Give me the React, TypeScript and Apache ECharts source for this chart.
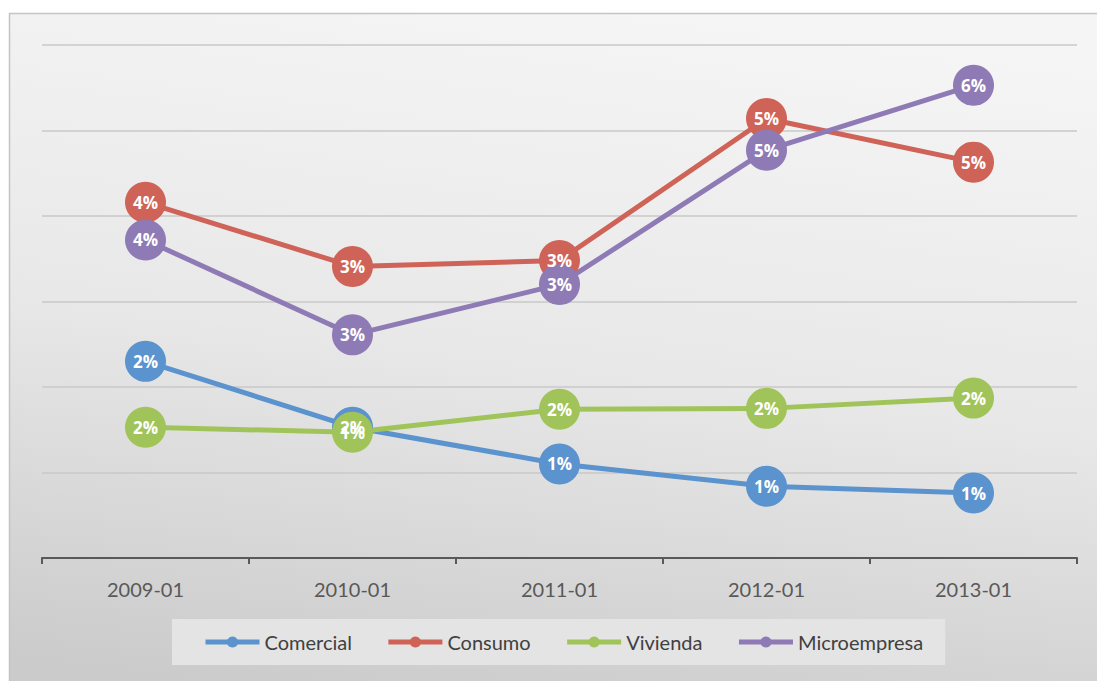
import React, { useEffect, useRef } from "react";
import * as echarts from "echarts";

const categories = ["2009-01", "2010-01", "2011-01", "2012-01", "2013-01"];
const comercial = [0.0230, 0.0153, 0.0110, 0.0084, 0.0076];
const consumo = [0.0416, 0.0341, 0.0348, 0.0514, 0.0463];
const vivienda = [0.0153, 0.0147, 0.0174, 0.0175, 0.0187];
const microempresa = [0.0372, 0.0261, 0.0320, 0.0477, 0.0553];

const seriesDefs = [
  { name: "Comercial", data: comercial, color: "#5a93cd" },
  { name: "Consumo", data: consumo, color: "#cf6357" },
  { name: "Vivienda", data: vivienda, color: "#a1c45a" },
  { name: "Microempresa", data: microempresa, color: "#8e7ab5" },
];

export default function App() {
  const ref = useRef<HTMLDivElement>(null);
  useEffect(() => {
    if (!ref.current) return;
    const chart = echarts.init(ref.current, undefined, { renderer: "svg" });
    chart.setOption({
      animation: false,
      graphic: [
        {
          type: "rect",
          z: -10,
          silent: true,
          shape: { x: 9.5, y: 13.5, width: 1100, height: 700 },
          style: {
            fill: new echarts.graphic.LinearGradient(0.6, 0, 0.4, 1, [
              { offset: 0, color: "#f5f5f5" },
              { offset: 0.5, color: "#e8e8e8" },
              { offset: 1, color: "#cbcbcb" },
            ]),
            stroke: "#c4c4c4",
            lineWidth: 1.5,
          },
        },
      ],
      grid: { left: 42, right: 20, top: 45, bottom: 123 },
      legend: {
        left: 172,
        top: 619,
        padding: [13, 22, 13, 31],
        backgroundColor: "#e4e4e4",
        itemWidth: 54,
        itemHeight: 14,
        itemGap: 34,
        lineStyle: { width: 5 },
        textStyle: { fontFamily: "Lato", fontSize: 20, color: "#404040" },
        data: seriesDefs.map((s) => s.name),
      },
      xAxis: {
        type: "category",
        data: categories,
        boundaryGap: true,
        axisLine: { lineStyle: { color: "#595959", width: 2 } },
        axisTick: { show: true, length: 6, lineStyle: { color: "#595959", width: 2 } },
        axisLabel: { color: "#595959", fontFamily: "Lato", fontSize: 20, margin: 21 },
      },
      yAxis: {
        type: "value",
        min: 0,
        max: 0.06,
        interval: 0.01,
        axisLabel: { show: false },
        axisLine: { show: false },
        axisTick: { show: false },
        splitLine: { lineStyle: { color: "#c8c8c8", width: 1.5 } },
      },
      series: seriesDefs.map((s) => ({
        name: s.name,
        type: "line",
        data: s.data,
        color: s.color,
        symbol: "circle",
        symbolSize: 41,
        lineStyle: { width: 5, color: s.color },
        itemStyle: { color: s.color },
        label: {
          show: true,
          position: "inside",
          color: "#ffffff",
          fontFamily: "Open Sans",
          fontWeight: "bold",
          fontSize: 17,
          formatter: (p: any) => Math.round(p.value * 100) + "%",
        },
      })),
    });
    return () => chart.dispose();
  }, []);
  return (
    <div
      ref={ref}
      style={{ position: "absolute", left: 0, top: 0, width: 1097, height: 681 }}
    />
  );
}
